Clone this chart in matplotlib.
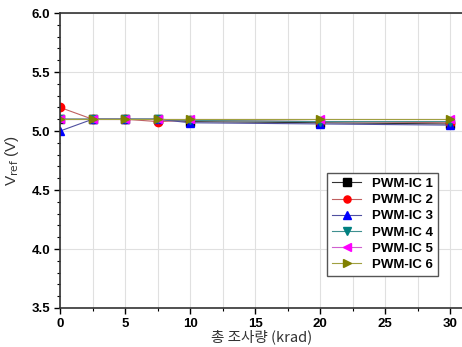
import matplotlib.pyplot as plt
from matplotlib.ticker import MultipleLocator

plt.rcParams['font.family'] = ['Liberation Sans', 'Noto Sans CJK KR', 'DejaVu Sans']

# 총 조사량 (krad)
dose = [0, 2.5, 5, 7.5, 10, 20, 30]

ic1 = [5.10, 5.10, 5.10, 5.10, 5.08, 5.07, 5.06]
ic2 = [5.20, 5.10, 5.10, 5.08, 5.09, 5.08, 5.07]
ic3 = [5.00, 5.10, 5.10, 5.10, 5.07, 5.06, 5.05]
ic4 = [5.10, 5.10, 5.10, 5.10, 5.09, 5.08, 5.08]
ic5 = [5.10, 5.10, 5.10, 5.10, 5.10, 5.10, 5.10]
ic6 = [5.10, 5.10, 5.10, 5.10, 5.10, 5.10, 5.10]

labels = ['PWM-IC 1', 'PWM-IC 2', 'PWM-IC 3', 'PWM-IC 4', 'PWM-IC 5', 'PWM-IC 6']
series = [ic1, ic2, ic3, ic4, ic5, ic6]
colors = ['black', 'red', 'blue', '#008080', 'magenta', '#808000']
lcolors = ['#333333', '#c06060', '#5050a0', '#409090', '#d060d0', '#a0a040']
markers = ['s', 'o', '^', 'v', '<', '>']

fig = plt.figure(figsize=(4.62, 3.47), dpi=100)
ax = fig.add_axes([0.13, 0.1124, 0.8723, 0.850])

for y, lab, c, lc, m in zip(series, labels, colors, lcolors, markers):
    ax.plot(dose, y, color=lc, linewidth=0.8, marker=m, markersize=6,
            markerfacecolor=c, markeredgecolor=c, label=lab)

ax.set_xlim(0, 31)
ax.set_ylim(3.5, 6.0)
ax.xaxis.set_major_locator(MultipleLocator(5))
ax.xaxis.set_minor_locator(MultipleLocator(2.5))
ax.yaxis.set_minor_locator(MultipleLocator(0.1))
ax.set_yticks([3.5, 4.0, 4.5, 5.0, 5.5, 6.0])
ax.set_yticklabels(['3.5', '4.0', '4.5', '5.0', '5.5', '6.0'])

ax.grid(True, which='major', color='#e0e0e0', linewidth=0.8)
ax.grid(True, which='minor', axis='x', color='#e0e0e0', linewidth=0.8)
ax.set_axisbelow(True)

ax.tick_params(which='major', direction='out', length=4, width=1, labelsize=9.5, pad=3)
ax.tick_params(which='minor', direction='out', length=2, width=0.8)
for lbl in ax.get_xticklabels() + ax.get_yticklabels():
    lbl.set_fontweight('bold')
for s in ax.spines.values():
    s.set_color('#333333')
    s.set_linewidth(1.2)

ax.set_xlabel('총 조사량 (krad)', fontsize=10.5, color='#333333', labelpad=0,
              family=['Noto Sans CJK KR', 'DejaVu Sans'])
ax.set_ylabel(r'V$_{\mathrm{ref}}$ (V)', fontsize=11, color='#333333', labelpad=8)

leg = ax.legend(loc='lower right', bbox_to_anchor=(0.955, 0.085), fancybox=False,
                framealpha=1, edgecolor='#555555', prop={'weight': 'bold', 'size': 9.5},
                handlelength=2.2, borderpad=0.4, labelspacing=0.3, markerscale=0.85)

fig.savefig('out.png', dpi=100)
